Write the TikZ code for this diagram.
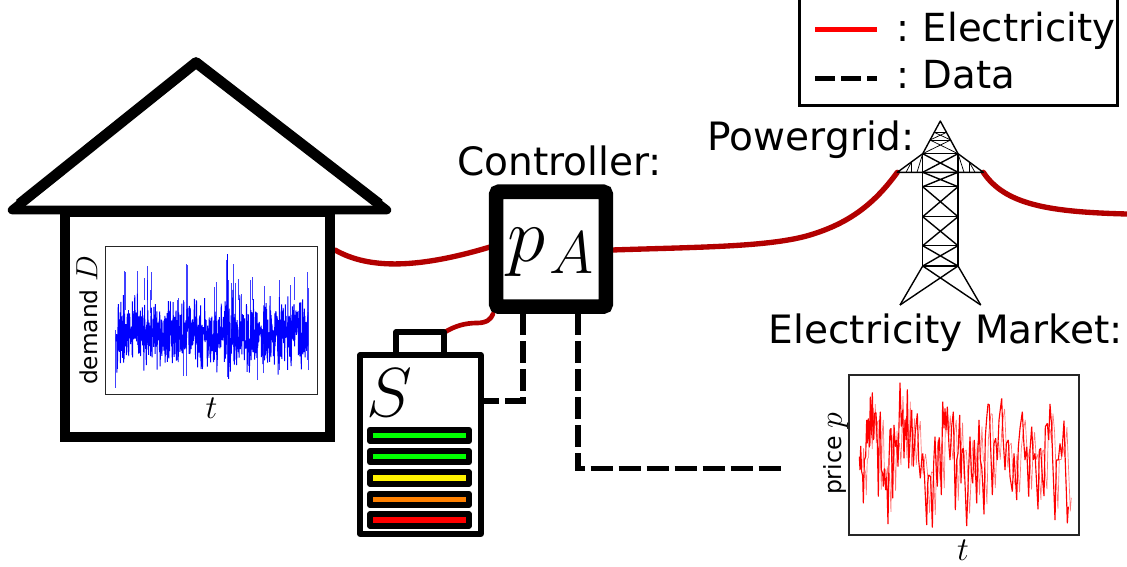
\documentclass[tikz,border=0pt]{standalone}
\usepackage{fix-cm}
\usepackage{fontspec}
\setmainfont{DejaVu Sans}
\usetikzlibrary{calc}
\definecolor{wire}{RGB}{178,0,0}
\definecolor{barorange}{RGB}{255,128,0}
\newcommand{\fsz}[1]{\fontsize{#1}{#1}\selectfont}
\newcommand{\pricedata}{150/330,152/258,155/335,158/348,160/430,163/300,167/290,170/180,172/250,175/175,178/262,181/110,184/225,187/97,190/240,194/160,198/158,202/250,205/410,208/200,211/155,214/330,218/340,220/380,223/325,227/390,230/350,234/492,237/300,240/210,243/205,248/415,252/195,256/260,260/240,264/320,270/68,274/200,278/150,282/295,285/180,289/240,292/88,296/325,300/240,305/150,310/320,315/225,322/160,326/300,331/355,335/300,338/280,343/340,350/495,353/370,356/345,362/350,367/503,371/310,375/230,379/340,382/380,385/250,388/232,394/405,398/125,402/205,405/145,408/210,412/140,417/260,420/300,425/200,430/155,433/300,436/450,440/300,444/280,449/165,453/370,456/270,460/265,465/370,470/498,475/350,480/230,484/340,488/370,493/240,500/430,503/300,507/180,511/300,515/320,518/370,522/463,526/230,530/175,534/132,538/135,541/235,547/405,552/250,557/235,562/300,567/180,575/115,579/230,585/330,589/250,595/240,600/350,607/395,612/280,620/420,625/260,630/205,637/155,641/240,645/300,650/260,656/410,660/270,665/200,670/300,675/280,684/448,688/270,692/265,697/350,702/408,706/200,712/190,716/240,720/132,725/200,728/300,735/480,739/300,745/300,750/250,755/290,762/182,766/310,769/395,772/490,775/440}
\tikzset{
  wireline/.style={wire,line width=4pt,line cap=round},
  dataline/.style={black,line width=3.8pt,dash pattern=on 16.5pt off 4.5pt},
  label/.style={anchor=base west,inner sep=0pt,font=\fsz{29.3}},
  axislabel/.style={inner sep=0pt,rotate=90,font=\fsz{17.5}},
  mathlabel/.style={inner sep=0pt,font=\fsz{25}},
  plotframe/.style={draw=black!85,line width=1.1pt,fill=white},
  tower/.style={black,line width=1.05pt,line join=round},
  towerthin/.style={black,line width=.55pt},
  bar/.style={draw=black,line width=4.4pt,line join=round},
  battline/.style={draw=black,line width=4.2pt,line join=round},
}
\begin{document}
\begin{tikzpicture}[x=0.75pt,y=-0.75pt]
\useasboundingbox (0,0) rectangle (1127,567);
\fill[white] (0,0) rectangle (1127,567);
% ---- named anchor points
\coordinate (houseOut) at (335,250);
\coordinate (ctrlW) at (490,247);
\coordinate (ctrlE) at (612,250);
\coordinate (ctrlSW) at (493,314);
\coordinate (ctrlS1) at (523,313);
\coordinate (ctrlS2) at (578,313);
\coordinate (battTop) at (445,332);
\coordinate (battE) at (483,401);
\coordinate (marketIn) at (782,468.5);
\coordinate (towerL) at (897.3,172.3);
\coordinate (towerR) at (983.3,172.3);
\coordinate (gridEnd) at (1127,214);
\coordinate (roofTop) at (196,62.5);
\coordinate (roofL) at (12,210);
\coordinate (roofR) at (387,210);
% ---- wires
\draw[wireline] (houseOut) .. controls (370,270) and (420,268) .. (ctrlW);
\draw[wireline] (ctrlE) .. controls (700,247) and (770,247) .. (810,235) .. controls (850,223) and (875,203) .. (towerL);
\draw[wireline] (towerR) .. controls (1005,205) and (1050,212) .. (gridEnd);
\draw[wireline,line width=3.5pt] (battTop) .. controls (455,326) and (465,323) .. (477,323) .. controls (487,323) and (491,319) .. (ctrlSW);
% ---- data
\draw[dataline] (ctrlS1) -- (523,401) -- (battE);
\draw[dataline] (ctrlS2) -- (578,468.5) -- (marketIn);
% ---- house
\draw[black,line width=7.5pt,fill=white] (65,212) rectangle (330,437);
\draw[black,line width=6.4pt,line join=round,fill=white] (roofTop) -- (roofR) -- (roofL) -- cycle;
\draw[black,line width=8pt,line join=round] ($(roofL)!.04!(roofTop)$) -- (roofTop) -- ($(roofR)!.04!(roofTop)$);
\node[plotframe,minimum width=159.3pt,minimum height=110.7pt,inner sep=0pt] (demandplot) at (211.5,320.5) {};
\pgfmathsetseed{7}
\draw[blue,line width=.72pt,line join=bevel] plot[samples=800,domain=116:308] (\x,{333+20*(rand+rand)+24*rand*rand*rand});
\foreach \sx/\sa/\sb in {115/330/388,125/310/272,124.5/330/271,137/345/271,144/300/278,147/300/280,
  147/345/266,150/290/313,178/330/298,151/300/272,177/360/300,187/330/265,186/376/342,183/376/300,
  186.5/342/264,214/360/287,216/355/282,227/360/264,226/345/260,227/377/360,231/345/283,233/347/264,
  241/340/294,263/373/340,279/370/280,228/330/280,238/300/279,257/380/340,252/300/277,
  235/330/283,294/300/277,307/360/272,308/370/288,264/340/286,250/340/280,290/340/285}{
  \draw[blue,line width=.5pt,opacity=.75] (\sx,\sa) -- (\sx,\sb);
}
\draw[blue,line width=.5pt] (227,335) -- (227,253.5);
\node[axislabel] (demandlab) at (87,320.5) {demand {\fsz{23}$D$}};
\node[mathlabel] (demandt) at (211.5,408) {$t$};
% ---- controller
\node[draw=black,line width=10.9pt,rounded corners=2pt,fill=white,minimum width=82.2pt,minimum height=86.2pt,inner sep=0pt] (ctrl) at (551,249.2) {};
\node[inner sep=0pt,anchor=base west] (pa) at (507.5,261) {\fsz{58}$p$\kern3pt\raisebox{-9.5pt}{\fsz{45}$A$}};
\node[label] (ctrllab) at (457,175) {Controller:};
% ---- battery
\draw[battline,fill=white] (396,332) rectangle (444,356);
\node[battline,fill=white,minimum width=90.5pt,minimum height=134pt,inner sep=0pt] (batt) at (420.5,444.5) {};
\node[inner sep=0pt,anchor=base west,font=\fsz{52}] (S) at (366,416) {$S$};
\foreach \ya/\yb/\c in {429.7/441/green,451/462.3/green,472.3/483.7/yellow,493.7/505/barorange,514.3/525.7/red}{
  \draw[bar,fill=\c] (370,\ya) rectangle (469,\yb);
}
% ---- tower
\draw[tower] (922.7,153.7) -- (940.3,121) -- (958,153.7);
\draw[tower] (922.7,153.7) -- (897.3,172.3) -- (983.3,172.3) -- (958,153.7);
\draw[tower] (922.7,153.7) -- (922.7,266) (958,153.7) -- (958,266);
\foreach \yy in {153.7,172.3,186.7,216.7,245.7,266}{\draw[tower] (922.7,\yy) -- (958,\yy);}
\draw[tower] (922.7,153.7) -- (958,172.3) (958,153.7) -- (922.7,172.3);
\draw[tower] (922.7,172.3) -- (958,186.7) (958,172.3) -- (922.7,186.7);
\draw[tower] (922.7,186.7) -- (958,216.7) (958,186.7) -- (922.7,216.7);
\draw[tower] (922.7,216.7) -- (958,245.7) (958,216.7) -- (922.7,245.7);
\draw[tower] (922.7,245.7) -- (958,266) (958,245.7) -- (922.7,266);
\draw[tower] (922.7,266) -- (900,305) (958,266) -- (980.7,305);
\draw[tower] (922.7,266) -- (980.7,305) (958,266) -- (900,305);
% tower head and arms
\draw[towerthin] (930,140) -- (950.7,140) (935,132.7) -- (945.7,132.7);
\draw[towerthin] (922.7,153.7) -- (950.7,140) (958,153.7) -- (930,140);
\draw[towerthin] (930,140) -- (945.7,132.7) (950.7,140) -- (935,132.7);
\draw[towerthin] (911.5,162) -- (911.5,172.3) (969.2,162) -- (969.2,172.3);
\draw[towerthin] (906,172.3) -- (911.5,162) (975,172.3) -- (969.2,162) (922.7,153.7) -- (917,172.3) (958,153.7) -- (964,172.3);
\node[label] (gridlab) at (707.5,150) {Powergrid:};
% ---- market
\node[label] (marketlab) at (768.5,343) {Electricity Market:};
\node[plotframe,minimum width=172.5pt,minimum height=120pt,inner sep=0pt] (priceplot) at (964,455) {};
\begin{scope}[shift={(810,360)},x=0.25pt,y=-0.25pt]
\draw[red,line width=.85pt,line join=bevel] (148,290) \foreach \a/\b in \pricedata { -- (\a,\b)};
\draw[red,line width=.5pt,line join=bevel,opacity=.55,xshift=2.2pt,yscale=.82,yshift=-16pt] (150,300) \foreach \a/\b in \pricedata { -- (\a,\b)};
\end{scope}
\node[axislabel,font=\fsz{17.7}] (pricelab) at (836,454) {price {\fsz{24}$p$}};
\node[mathlabel] (pricet) at (963,550) {$t$};
% ---- legend
\node[draw=black,line width=2.5pt,fill=white,minimum width=238.5pt,minimum height=80.25pt,inner sep=0pt] (legend) at (958.5,52) {};
\coordinate (legA) at (815,29.5);
\coordinate (legB) at (877,29.5);
\coordinate (legC) at (815,78.7);
\coordinate (legD) at (877,78.7);
\draw[red,line width=4.4pt] (legA) -- (legB);
\draw[black,line width=3.9pt,dash pattern=on 15pt off 4.5pt] (legC) -- (legD);
\node[label,font=\fsz{29}] (legE) at (896,41.5) {:\kern-2pt{} Electricity};
\node[label,font=\fsz{29}] (legF) at (896,89) {:\kern-2pt{} Data};
\end{tikzpicture}
\end{document}
